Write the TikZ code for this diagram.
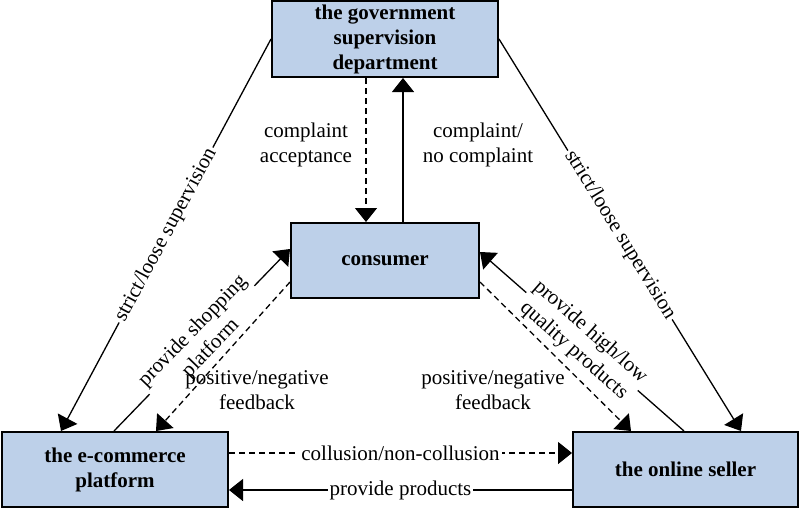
\documentclass[tikz,border=0pt]{standalone}
\usepackage{fontspec}
\setmainfont{Liberation Serif}
\usetikzlibrary{arrows.meta}
\definecolor{boxblue}{RGB}{189,208,233}
\begin{document}
\begin{tikzpicture}[x=1pt,y=-1pt,
  box/.style={draw, line width=2pt, fill=boxblue, font=\fontsize{21}{25}\selectfont\bfseries, align=center, inner sep=0pt},
  conn/.style={line width=1.3pt, -{Triangle[length=14pt,width=22pt]}},
  dconn/.style={conn, dash pattern=on 6pt off 4pt},
  lbl/.style={font=\fontsize{21}{25}\selectfont, align=center, inner sep=2pt},
  onlbl/.style={lbl, fill=white}]
\useasboundingbox (0,0) rectangle (800,509);
\node[box, minimum width=226pt, minimum height=76pt] (gov) at (385,39) {the government\\supervision\\department};
\node[box, minimum width=188pt, minimum height=75pt] (cons) at (385,260.5) {consumer};
\node[box, minimum width=226pt, minimum height=75pt] (ecom) at (115,469.5) {the e-commerce\\platform};
\node[box, minimum width=225pt, minimum height=75pt] (seller) at (685.5,469.5) {the online seller};

% solid connectors
\draw[conn] (gov.west) -- node[onlbl, sloped] {strict/loose supervision} ([xshift=60pt]ecom.north west);
\draw[conn] (gov.east) -- node[onlbl, sloped] {strict/loose supervision} ([xshift=-58pt]seller.north east);
\draw[conn] ([xshift=18pt]cons.north) -- ([xshift=18pt]gov.south);
\draw[conn] ([xshift=113pt]ecom.north west) -- node[onlbl, sloped] {provide shopping\\platform} ([yshift=-27pt]cons.north west);
\draw[conn] ([xshift=112pt]seller.north west) -- node[onlbl, sloped] {provide high/low\\quality products} ([yshift=-30pt]cons.north east);
\draw[conn] ([yshift=-20.5pt]seller.west) -- node[onlbl] {provide products} ([yshift=-20.5pt]ecom.east);

% dashed connectors
\draw[dconn] ([xshift=-19pt]gov.south) -- ([xshift=-19pt]cons.north);
\draw[dconn] ([yshift=-60pt]cons.north west) -- ([xshift=155pt]ecom.north west);
\draw[dconn] ([yshift=-60pt]cons.north east) -- ([xshift=59pt]seller.north west);
\draw[dconn] ([yshift=16.5pt]ecom.east) -- node[onlbl] {collusion/non-collusion} ([yshift=16.5pt]seller.west);

% free labels
\node[lbl] (lacc) at (306,145) {complaint\\acceptance};
\node[lbl] (lcomp) at (478,145) {complaint/\\no complaint};
\node[lbl] (lfb1) at (257,390) {positive/negative\\feedback};
\node[lbl] (lfb2) at (493,390) {positive/negative\\feedback};
\end{tikzpicture}
\end{document}
